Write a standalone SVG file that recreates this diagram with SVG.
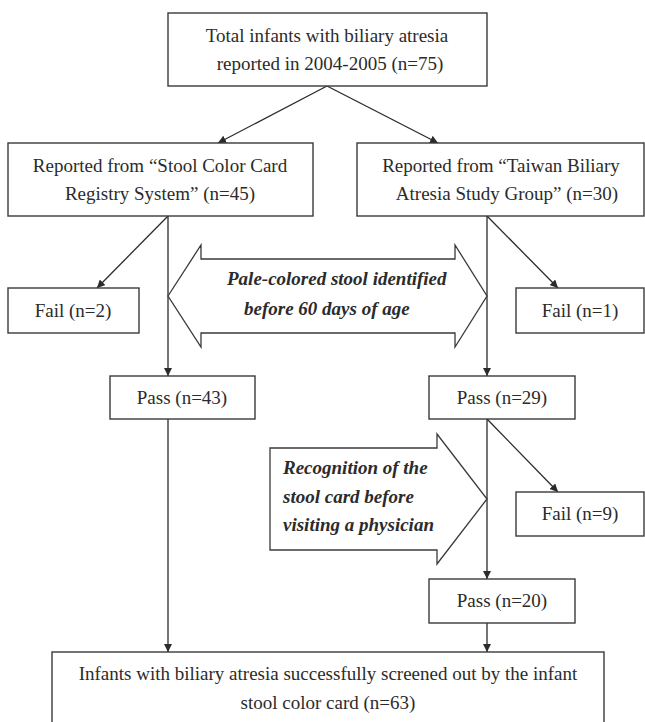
<svg xmlns="http://www.w3.org/2000/svg" width="645" height="722" viewBox="0 0 645 722">
<defs>
<marker id="ah" viewBox="0 0 10 10" refX="10" refY="5" markerWidth="8" markerHeight="8" markerUnits="userSpaceOnUse" orient="auto">
<path d="M0,0 L10,5 L0,10 z" fill="#2b2b2b"/>
</marker>
<style>
.box{fill:#fff;stroke:#3a3a3a;stroke-width:1.4}
.t{font-family:"Liberation Serif","Times New Roman",serif;font-size:19px;fill:#2b2b2b;text-anchor:middle}
.bi{font-family:"Liberation Serif","Times New Roman",serif;font-size:19px;fill:#2b2b2b;font-style:italic;font-weight:bold}
.c{fill:none;stroke:#2b2b2b;stroke-width:1.3;marker-end:url(#ah)}
.big{fill:#fff;stroke:#3a3a3a;stroke-width:1.3}
</style>
</defs>
<rect width="645" height="722" fill="#fff"/>
<g id="connectors">
<line class="c" x1="327" y1="86" x2="218" y2="143"/>
<line class="c" x1="327" y1="86" x2="438" y2="143"/>
<line class="c" x1="168" y1="216" x2="168" y2="376"/>
<line class="c" x1="168" y1="216" x2="97" y2="288"/>
<line class="c" x1="487" y1="216" x2="487" y2="376"/>
<line class="c" x1="487" y1="216" x2="558" y2="288"/>
<line class="c" x1="168" y1="419" x2="168" y2="652"/>
<line class="c" x1="487" y1="419" x2="487" y2="579"/>
<line class="c" x1="487" y1="419" x2="558" y2="492"/>
<line class="c" x1="487" y1="623" x2="487" y2="652"/>
</g>
<g id="pale-arrow">
<polygon class="big" points="168,296 201,245 201,259 455,259 455,245 487,296 455,347 455,333 201,333 201,347"/>
<text class="bi" x="227" y="285">Pale-colored stool identified</text>
<text class="bi" x="244" y="315">before 60 days of age</text>
</g>
<g id="recognition-arrow">
<polygon class="big" points="270,448 437,448 437,434 487,499 437,564 437,550 270,550"/>
<text class="bi" x="283" y="474">Recognition of the</text>
<text class="bi" x="283" y="503">stool card before</text>
<text class="bi" x="283" y="531">visiting a physician</text>
</g>
<g id="total">
<rect class="box" x="168" y="13" width="319" height="73"/>
<text class="t" x="327" y="42">Total infants with biliary atresia</text>
<text class="t" x="330" y="70">reported in 2004-2005 (n=75)</text>
</g>
<g id="stool-registry">
<rect class="box" x="8" y="143" width="305" height="73"/>
<text class="t" x="160" y="172">Reported from “Stool Color Card</text>
<text class="t" x="160" y="200">Registry System” (n=45)</text>
</g>
<g id="taiwan-group">
<rect class="box" x="357" y="143" width="287" height="73"/>
<text class="t" x="501" y="172">Reported from “Taiwan Biliary</text>
<text class="t" x="507" y="200">Atresia Study Group” (n=30)</text>
</g>
<g id="fail2">
<rect class="box" x="8" y="288" width="131" height="45"/>
<text class="t" x="73" y="317">Fail (n=2)</text>
</g>
<g id="fail1">
<rect class="box" x="516" y="288" width="128" height="45"/>
<text class="t" x="580" y="317">Fail (n=1)</text>
</g>
<g id="pass43">
<rect class="box" x="110" y="376" width="145" height="43"/>
<text class="t" x="182" y="404">Pass (n=43)</text>
</g>
<g id="pass29">
<rect class="box" x="429" y="376" width="146" height="43"/>
<text class="t" x="502" y="404">Pass (n=29)</text>
</g>
<g id="fail9">
<rect class="box" x="516" y="492" width="128" height="44"/>
<text class="t" x="580" y="520">Fail (n=9)</text>
</g>
<g id="pass20">
<rect class="box" x="429" y="579" width="146" height="44"/>
<text class="t" x="502" y="607">Pass (n=20)</text>
</g>
<g id="screened">
<rect class="box" x="52" y="652" width="552" height="90"/>
<text class="t" x="328" y="680">Infants with biliary atresia successfully screened out by the infant</text>
<text class="t" x="328" y="709">stool color card (n=63)</text>
</g>
</svg>
